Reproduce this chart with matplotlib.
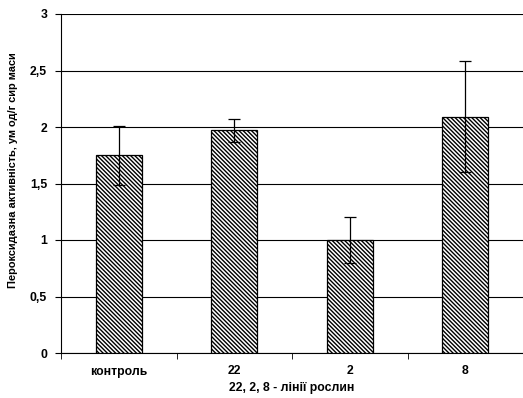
import numpy as np
import matplotlib.pyplot as plt

plt.rcParams['font.family'] = ['Liberation Sans', 'DejaVu Sans']
plt.rcParams['font.weight'] = 'bold'
plt.rcParams['hatch.linewidth'] = 1.0

categories = ["контроль", "22", "2", "8"]
values = [1.75, 1.97, 1.0, 2.09]
errors = [0.26, 0.10, 0.20, 0.49]
yticks = [0, 0.5, 1, 1.5, 2, 2.5, 3]
ytick_labels = ["0", "0,5", "1", "1,5", "2", "2,5", "3"]

fs = 8.8

fig = plt.figure(figsize=(5.23, 3.98), dpi=100)
ax = fig.add_axes([61 / 523, 45 / 398, 462 / 523, 339 / 398])

x = np.arange(len(categories))
ax.bar(x, values, width=0.4, color="white", edgecolor="black", hatch="\\" * 8,
       linewidth=0.9, zorder=3)
ax.errorbar(x, values, yerr=errors, fmt="none", ecolor="black", elinewidth=0.9,
            capsize=4, capthick=0.9, zorder=4)

ax.set_xlim(-0.49, 3.47)
ax.set_ylim(0, 3)
ax.set_yticks(yticks)
ax.set_yticklabels(ytick_labels, fontsize=fs, fontweight="bold")
ax.yaxis.grid(True, color="black", linewidth=0.8, zorder=0)

ax.set_xticks(x)
ax.set_xticklabels(categories, fontsize=fs, fontweight="bold")
ax.set_xticks(np.arange(-0.5, 3.6, 1), minor=True)
ax.tick_params(axis="x", which="major", length=0, pad=9)
ax.tick_params(axis="x", which="minor", length=4, direction="out")
ax.tick_params(axis="y", length=4, direction="out", pad=6)

for s in ["top", "right"]:
    ax.spines[s].set_visible(False)
ax.spines["left"].set_linewidth(0.8)
ax.spines["bottom"].set_linewidth(0.8)

ax.set_xlabel("22, 2, 8 - лінії рослин", fontsize=fs, fontweight="bold", labelpad=3)
ax.set_ylabel("Пероксидазна активність, ум од/г сир маси", fontsize=7.9,
              fontweight="bold")
ax.yaxis.set_label_coords(-0.092, 0.54)

fig.savefig("out.png", dpi=100)
